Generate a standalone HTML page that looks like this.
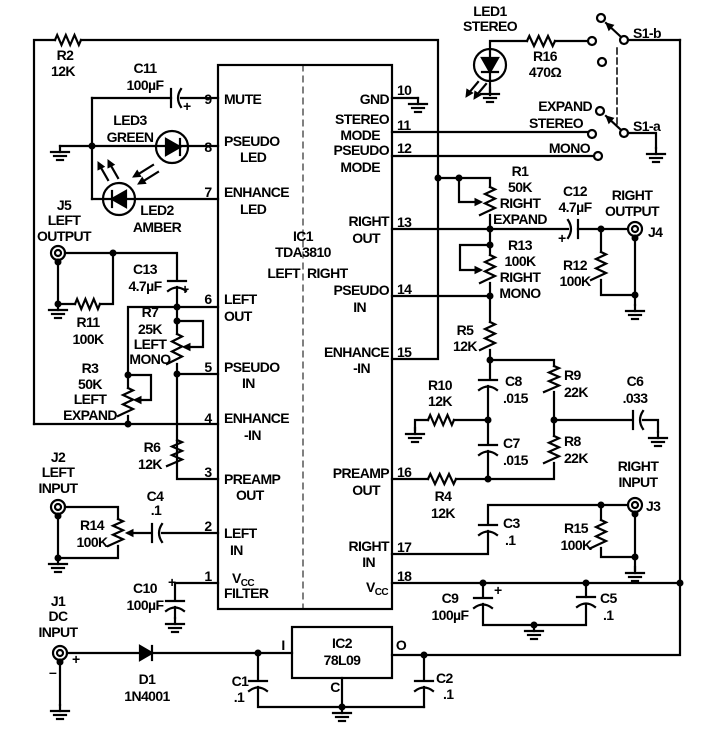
<!DOCTYPE html>
<html><head><meta charset="utf-8"><style>
html,body{margin:0;padding:0;background:#fff;}
svg{display:block;}
text{font-family:"Liberation Sans Narrow","Liberation Sans",sans-serif;font-weight:bold;font-size:14px;fill:#000;letter-spacing:-0.6px;}
.m{text-anchor:middle}.e{text-anchor:end}
</style></head><body>
<svg id="s" width="715" height="738" viewBox="0 0 715 738" xmlns="http://www.w3.org/2000/svg">
<g id="g" stroke="#000" stroke-width="2.2" fill="none" stroke-linecap="square"></g>
<g>
<text x="224" y="104">MUTE</text>
<text x="224" y="146">PSEUDO</text><text x="240" y="162">LED</text>
<text x="224" y="197">ENHANCE</text><text x="240" y="214">LED</text>
<text x="224" y="304">LEFT</text><text x="224" y="321">OUT</text>
<text x="224" y="372">PSEUDO</text><text x="242" y="388">IN</text>
<text x="224" y="423">ENHANCE</text><text x="244" y="440">-IN</text>
<text x="224" y="484">PREAMP</text><text x="236" y="500">OUT</text>
<text x="224" y="538">LEFT</text><text x="230" y="555">IN</text>
<text x="232" y="583">V<tspan font-size="10" dy="3">CC</tspan></text><text x="224" y="598">FILTER</text>
<text x="208" y="104" class="m">9</text><text x="208" y="152" class="m">8</text><text x="208" y="197" class="m">7</text>
<text x="208" y="304" class="m">6</text><text x="208" y="372" class="m">5</text><text x="208" y="423" class="m">4</text>
<text x="208" y="477" class="m">3</text><text x="208" y="531" class="m">2</text><text x="208" y="581" class="m">1</text>
<text x="389" y="104" class="e">GND</text>
<text x="389" y="124" class="e">STEREO</text><text x="380" y="140" class="e">MODE</text>
<text x="389" y="155" class="e">PSEUDO</text><text x="380" y="172" class="e">MODE</text>
<text x="389" y="226" class="e">RIGHT</text><text x="380" y="243" class="e">OUT</text>
<text x="389" y="295" class="e">PSEUDO</text><text x="366" y="312" class="e">IN</text>
<text x="389" y="357" class="e">ENHANCE</text><text x="370" y="373" class="e">-IN</text>
<text x="389" y="478" class="e">PREAMP</text><text x="380" y="495" class="e">OUT</text>
<text x="389" y="551" class="e">RIGHT</text><text x="375" y="567" class="e">IN</text>
<text x="388" y="592" class="e">V<tspan font-size="10" dy="3">CC</tspan></text>
<text x="397" y="95">10</text><text x="397" y="130">11</text><text x="397" y="153">12</text>
<text x="397" y="227">13</text><text x="397" y="294">14</text><text x="397" y="357">15</text>
<text x="397" y="477">16</text><text x="397" y="552">17</text><text x="397" y="581">18</text>
<text x="303" y="241" class="m">IC1</text><text x="303" y="257" class="m" font-size="15">TDA3810</text>
<text x="300" y="278" class="e">LEFT</text><text x="307" y="278">RIGHT</text>
<text x="65" y="60" class="m">R2</text><text x="63" y="76" class="m">12K</text>
<text x="145" y="73" class="m">C11</text><text x="145" y="90" class="m">100µF</text>
<text x="183" y="111">+</text>
<text x="130" y="125" class="m">LED3</text><text x="130" y="142" class="m">GREEN</text>
<text x="157" y="215" class="m">LED2</text><text x="157" y="232" class="m">AMBER</text>
<text x="64" y="210" class="m">J5</text><text x="64" y="225" class="m">LEFT</text><text x="64" y="241" class="m">OUTPUT</text>
<text x="145" y="274" class="m">C13</text><text x="145" y="291" class="m">4.7µF</text><text x="181" y="294">+</text>
<text x="88" y="327" class="m">R11</text><text x="88" y="344" class="m">100K</text>
<text x="150" y="317" class="m">R7</text><text x="150" y="334" class="m">25K</text><text x="150" y="349" class="m">LEFT</text><text x="150" y="364" class="m">MONO</text>
<text x="90" y="373" class="m">R3</text><text x="90" y="389" class="m">50K</text><text x="90" y="404" class="m">LEFT</text><text x="90" y="420" class="m">EXPAND</text>
<text x="152" y="452" class="m">R6</text><text x="150" y="469" class="m">12K</text>
<text x="58" y="462" class="m">J2</text><text x="58" y="477" class="m">LEFT</text><text x="58" y="493" class="m">INPUT</text>
<text x="155" y="501" class="m">C4</text><text x="156" y="515" class="m">.1</text>
<text x="92" y="530" class="m">R14</text><text x="92" y="547" class="m">100K</text>
<text x="168" y="587">+</text>
<text x="145" y="593" class="m">C10</text><text x="145" y="610" class="m">100µF</text>
<text x="58" y="606" class="m">J1</text><text x="58" y="621" class="m">DC</text><text x="58" y="637" class="m">INPUT</text>
<text x="72" y="664">+</text><text x="49" y="677">–</text>
<text x="147" y="684" class="m">D1</text><text x="147" y="701" class="m">1N4001</text>
<text x="240" y="686" class="m">C1</text><text x="239" y="702" class="m">.1</text>
<text x="283" y="650" class="m">I</text><text x="401" y="650" class="m">O</text><text x="335" y="692" class="m">C</text>
<text x="342" y="648" class="m">IC2</text><text x="342" y="665" class="m" font-size="15">78L09</text>
<text x="436" y="683">C2</text><text x="443" y="699">.1</text>
<text x="490" y="16" class="m">LED1</text><text x="490" y="31" class="m">STEREO</text>
<text x="545" y="61" class="m">R16</text><text x="545" y="77" class="m">470Ω</text>
<text x="633" y="38">S1-b</text><text x="633" y="131">S1-a</text>
<text x="592" y="111" class="e">EXPAND</text><text x="583" y="128" class="e">STEREO</text><text x="590" y="153" class="e">MONO</text>
<text x="520" y="176" class="m">R1</text><text x="520" y="192" class="m">50K</text><text x="520" y="208" class="m">RIGHT</text><text x="520" y="224" class="m">EXPAND</text>
<text x="575" y="196" class="m">C12</text><text x="575" y="212" class="m">4.7µF</text><text x="558" y="243">+</text>
<text x="632" y="200" class="m">RIGHT</text><text x="632" y="216" class="m">OUTPUT</text><text x="648" y="237">J4</text>
<text x="520" y="250" class="m">R13</text><text x="520" y="266" class="m">100K</text><text x="520" y="282" class="m">RIGHT</text><text x="520" y="298" class="m">MONO</text>
<text x="575" y="270" class="m">R12</text><text x="575" y="286" class="m">100K</text>
<text x="465" y="335" class="m">R5</text><text x="465" y="351" class="m">12K</text>
<text x="440" y="390" class="m">R10</text><text x="440" y="406" class="m">12K</text>
<text x="505" y="386">C8</text><text x="503" y="403">.015</text>
<text x="503" y="448">C7</text><text x="503" y="465">.015</text>
<text x="564" y="380">R9</text><text x="564" y="397">22K</text>
<text x="564" y="446">R8</text><text x="564" y="463">22K</text>
<text x="635" y="386" class="m">C6</text><text x="635" y="403" class="m">.033</text>
<text x="443" y="501" class="m">R4</text><text x="443" y="518" class="m">12K</text>
<text x="638" y="471" class="m">RIGHT</text><text x="638" y="487" class="m">INPUT</text><text x="646" y="511">J3</text>
<text x="503" y="528">C3</text><text x="505" y="545">.1</text>
<text x="576" y="533" class="m">R15</text><text x="576" y="550" class="m">100K</text>
<text x="450" y="603" class="m">C9</text><text x="450" y="620" class="m">100µF</text><text x="494" y="595">+</text>
<text x="600" y="603">C5</text><text x="603" y="620">.1</text>
</g>
</svg>
<script>
var G=document.getElementById('g'),NS='http://www.w3.org/2000/svg';
function el(t,a){var e=document.createElementNS(NS,t);for(var k in a)e.setAttribute(k,a[k]);G.appendChild(e);return e;}
function P(d,extra){var a={d:d};for(var k in extra)a[k]=extra[k];return el('path',a);}
function L(pts){var d='M'+pts[0]+' '+pts[1];for(var i=2;i<pts.length;i+=2)d+=' L'+pts[i]+' '+pts[i+1];P(d);}
function dot(x,y){el('circle',{cx:x,cy:y,r:3.5,fill:'#000',stroke:'none'});}
function rh(x,y,w){w=w||26;var s=w/6;var d='M'+x+' '+y+' l'+s/2+' -5';for(var i=0;i<5;i++)d+=' l'+s+' '+(i%2?-10:10);d+=' l'+s/2+' -5';P(d);}
function rv(x,y,h){h=h||26;var s=h/6;var d='M'+x+' '+y+' l5 '+s/2;for(var i=0;i<5;i++)d+=' l'+(i%2?10:-10)+' '+s;d+=' l-5 '+s/2;P(d);}
function gnd(x,y){L([x,y,x,y+6]);L([x-9,y+6,x+9,y+6]);L([x-6,y+10,x+6,y+10]);L([x-3,y+14,x+3,y+14]);}
function cv(x,y){L([x-9,y-3,x+9,y-3]);P('M'+(x-9)+' '+(y+7)+' Q'+x+' '+(y)+' '+(x+9)+' '+(y+7));}
function ch(x,y,flip){var f=flip?-1:1;L([x-3*f,y-9,x-3*f,y+9]);P('M'+(x+7*f)+' '+(y-9)+' Q'+(x+f)+' '+y+' '+(x+7*f)+' '+(y+9));}
function jack(x,y){el('circle',{cx:x,cy:y,r:7});el('circle',{cx:x,cy:y,r:3});}
function oc(x,y){el('circle',{cx:x,cy:y,r:4,fill:'#fff'});}
function arr(x,y,dx,dy){var l=Math.hypot(dx,dy),ux=dx/l,uy=dy/l;P('M'+x+' '+y+' l'+(-ux*7-uy*3.5)+' '+(-uy*7+ux*3.5)+' l'+(uy*7)+' '+(-ux*7)+' Z',{fill:'#000','stroke-width':1});}

el('rect',{x:218,y:65,width:174,height:544});
P('M303 65 L303 609',{'stroke-dasharray':'6 5','stroke-width':1});
L([34,424,34,40,55,40]);rh(55,40,26);L([81,40,438,40,438,359,392,359]);
L([34,424,218,424]);
L([92,98,171,98]);ch(174,98);L([181,98,218,98]);
L([92,98,92,199]);dot(92,146);L([60,146,92,146]);gnd(60,146);
L([92,146,218,146]);el('circle',{cx:172,cy:147,r:16});P('M180 139 L180 155');P('M180 147 L166 139 L166 155 Z',{fill:'#000'});
L([92,199,218,199]);el('circle',{cx:119,cy:199,r:16});P('M112 191 L112 207');P('M112 199 L126 191 L126 207 Z',{fill:'#000'});
L([153,165,137,175]);arr(133,177,-1,0.6);L([158,172,142,182]);arr(138,184,-1,0.6);
L([108,180,100,166]);arr(98,162,-0.5,-1);L([118,178,110,164]);arr(108,160,-0.5,-1);
jack(58,253);L([65,253,177,253,177,280]);cv(177,284);L([177,287,177,307]);dot(113,253);
L([58,260,58,304,75,304]);dot(58,304);rh(75,304,25);L([100,304,113,304,113,253]);gnd(58,304);dot(58,262);
L([177,307,218,307]);dot(177,307);L([177,307,177,334]);dot(177,321);
rv(177,334,30);L([177,364,177,479,218,479]);dot(177,374);L([177,374,218,374]);
L([177,321,203,321,203,347,185,347]);arr(183,347,-1,0);
L([177,307,128,307,128,388]);dot(128,375);rv(128,388,28);L([128,416,128,424]);dot(128,424);
L([128,375,151,375,151,400,136,400]);arr(134,400,-1,0);
rv(177,440,26);
jack(58,507);L([65,507,118,507,118,519]);rv(118,519,27);L([118,546,118,558,60,558]);L([58,514,58,558]);dot(58,558);dot(58,516);gnd(58,558);
L([150,533,128,533]);arr(126,533,-1,0);ch(155,533);L([162,533,218,533]);
L([218,583,175,583,175,600]);cv(175,604);L([175,607,175,618]);gnd(175,618);
jack(60,653);L([67,653,140,653]);P('M140 646 L140 660 L152 653 Z',{fill:'#000'});L([152,646,152,660]);L([152,653,292,653]);dot(258,653);
L([60,660,60,705]);dot(60,662);gnd(60,705);
L([258,653,258,680]);cv(258,684);L([258,687,258,707,424,707]);dot(342,707);L([342,678,342,707]);gnd(342,707);
el('rect',{x:292,y:627,width:100,height:51});
L([392,655,680,655,680,40]);dot(424,655);L([424,655,424,680]);cv(424,684);L([424,687,424,707]);
dot(680,583);
L([392,98,418,98]);gnd(418,98);
L([490,95,490,41,527,41]);el('circle',{cx:490,cy:65,r:16});P('M482 58 L498 58 L490 72 Z',{fill:'#000'});L([482,72,498,72]);gnd(490,88);
L([478,82,468,94]);arr(466,97,-0.65,1);L([486,84,476,96]);arr(474,99,-0.65,1);
rh(527,41,28);L([555,41,588,41]);oc(592,41);oc(602,62);oc(601,18);
oc(624,40);L([628,40,680,40]);L([620,36,606,23]);arr(606,23,-1,-0.9);
oc(600,111);oc(592,134);oc(598,156);oc(624,133);L([620,129,606,116]);arr(606,116,-1,-0.9);
L([628,133,656,133,656,148]);gnd(656,148);
P('M617 48 L617 125',{'stroke-dasharray':'6 4','stroke-width':1.5});
L([392,132,588,132]);L([392,156,594,156]);
dot(438,178);L([438,178,490,178,490,187]);dot(459,178);rv(490,187,28);L([490,215,490,245]);
L([459,178,459,202,478,202]);arr(482,202,1,0);
L([392,229,568,229]);ch(575,229,true);L([578,229,628,229]);dot(490,229);dot(601,229);jack(635,229);
L([601,229,601,252]);rv(601,252,28);L([601,280,601,295,635,295]);L([635,236,635,295]);dot(635,295);dot(635,238);gnd(635,305);L([635,295,635,305]);
dot(490,245);rv(490,255,28);L([490,245,490,255]);L([490,283,490,296]);L([490,245,460,245,460,270,478,270]);arr(482,270,1,0);
L([392,296,490,296]);dot(490,296);L([490,296,490,322]);rv(490,322,28);L([490,350,490,379]);dot(490,360);
L([490,360,554,360,554,366]);rv(554,366,26);L([554,392,554,436]);dot(554,420);rv(554,436,27);L([554,463,554,479,488,479]);
cv(488,383);L([488,386,488,444]);dot(488,420);cv(488,448);L([488,451,488,479]);dot(488,479);
L([415,430,415,420,428,420]);rh(428,420,26);L([454,420,488,420]);gnd(415,428);
L([554,420,632,420]);ch(636,420);L([643,420,658,420,658,432]);gnd(658,432);
L([392,479,428,479]);rh(428,479,28);L([456,479,488,479]);
jack(635,505);L([628,505,488,505,488,524]);dot(601,505);cv(488,528);L([488,531,488,554,392,554]);
L([601,505,601,520]);rv(601,520,28);L([601,548,601,557,635,557]);L([635,512,635,570]);dot(635,557);dot(635,514);gnd(635,567);
L([392,583,680,583]);dot(483,583);dot(586,583);
L([483,583,483,597]);cv(483,601);L([483,604,483,625,586,625,586,604]);cv(586,600);L([586,597,586,583]);dot(534,625);gnd(534,625);
</script>
</body></html>
